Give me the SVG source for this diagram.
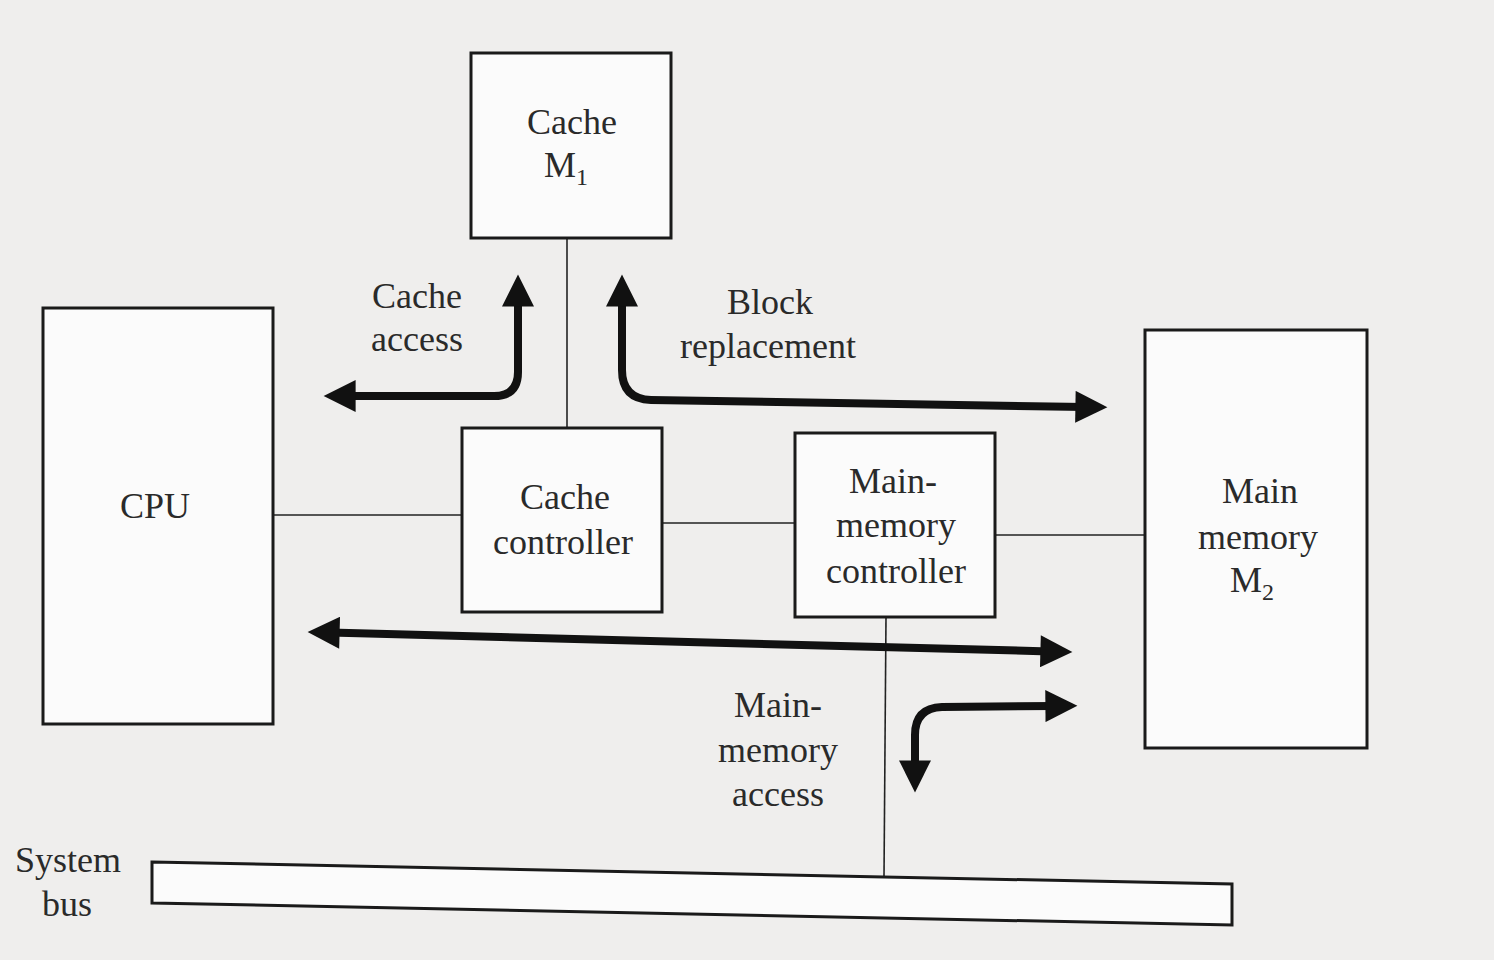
<svg xmlns="http://www.w3.org/2000/svg" width="1494" height="960" viewBox="0 0 1494 960">
<style>
.box{fill:#fbfbfb;stroke:#1a1a1a;stroke-width:3}
.ln{fill:none;stroke:#222;stroke-width:1.6}
.arr{fill:none;stroke:#111;stroke-width:8;marker-start:url(#ah);marker-end:url(#ah)}
.arr1{fill:none;stroke:#111;stroke-width:8;marker-start:url(#ah);marker-end:url(#ah)}
text{font-family:"Liberation Serif","Times New Roman",serif;font-size:36px;fill:#2a2a2a;text-anchor:middle}
.sub{font-size:24px}
</style>
<defs>
<marker id="ah" viewBox="0 0 10 10" refX="3" refY="5" markerUnits="userSpaceOnUse" markerWidth="36" markerHeight="32" orient="auto-start-reverse">
<path d="M0,0 L10,5 L0,10 z" fill="#111"/>
</marker>
</defs>
<rect width="1494" height="960" fill="#efeeed"/>
<g id="connectors">
<line class="ln" x1="567" y1="238" x2="567" y2="428"/>
<line class="ln" x1="273" y1="515" x2="462" y2="515"/>
<line class="ln" x1="662" y1="523" x2="795" y2="523"/>
<line class="ln" x1="995" y1="535" x2="1145" y2="535"/>
<line class="ln" x1="886" y1="617" x2="884" y2="877"/>
<path class="arr" d="M518 297 V372 Q518 396 494 396 H346"/>
<path class="arr" d="M622 297 V370 Q622 399 651 400 L1085 407"/>
<path class="arr" d="M330 632.6 L1050 651.4"/>
<path class="arr" d="M915 770 V735 Q915 708 942 707 L1055 706"/>
</g>
<g id="cache-m1">
<rect class="box" x="471" y="53" width="200" height="185"/>
<text x="572" y="134">Cache</text>
<text x="566" y="177">M<tspan class="sub" dy="8">1</tspan></text>
</g>
<g id="cpu">
<rect class="box" x="43" y="308" width="230" height="416"/>
<text x="155" y="518">CPU</text>
</g>
<g id="cache-controller">
<rect class="box" x="462" y="428" width="200" height="184"/>
<text x="565" y="509">Cache</text>
<text x="563" y="554">controller</text>
</g>
<g id="main-memory-controller">
<rect class="box" x="795" y="433" width="200" height="184"/>
<text x="893" y="493">Main-</text>
<text x="896" y="537">memory</text>
<text x="896" y="583">controller</text>
</g>
<g id="main-memory-m2">
<rect class="box" x="1145" y="330" width="222" height="418"/>
<text x="1260" y="503">Main</text>
<text x="1258" y="549">memory</text>
<text x="1252" y="592">M<tspan class="sub" dy="8">2</tspan></text>
</g>
<g id="system-bus">
<path class="box" d="M152 862 L1232 884 L1232 925 L152 903 Z"/>
<text x="68" y="872">System</text>
<text x="67" y="916">bus</text>
</g>
<g id="labels">
<text x="417" y="308">Cache</text>
<text x="417" y="351">access</text>
<text x="770" y="314">Block</text>
<text x="768" y="358">replacement</text>
<text x="778" y="717">Main-</text>
<text x="778" y="762">memory</text>
<text x="778" y="806">access</text>
</g>
</svg>
